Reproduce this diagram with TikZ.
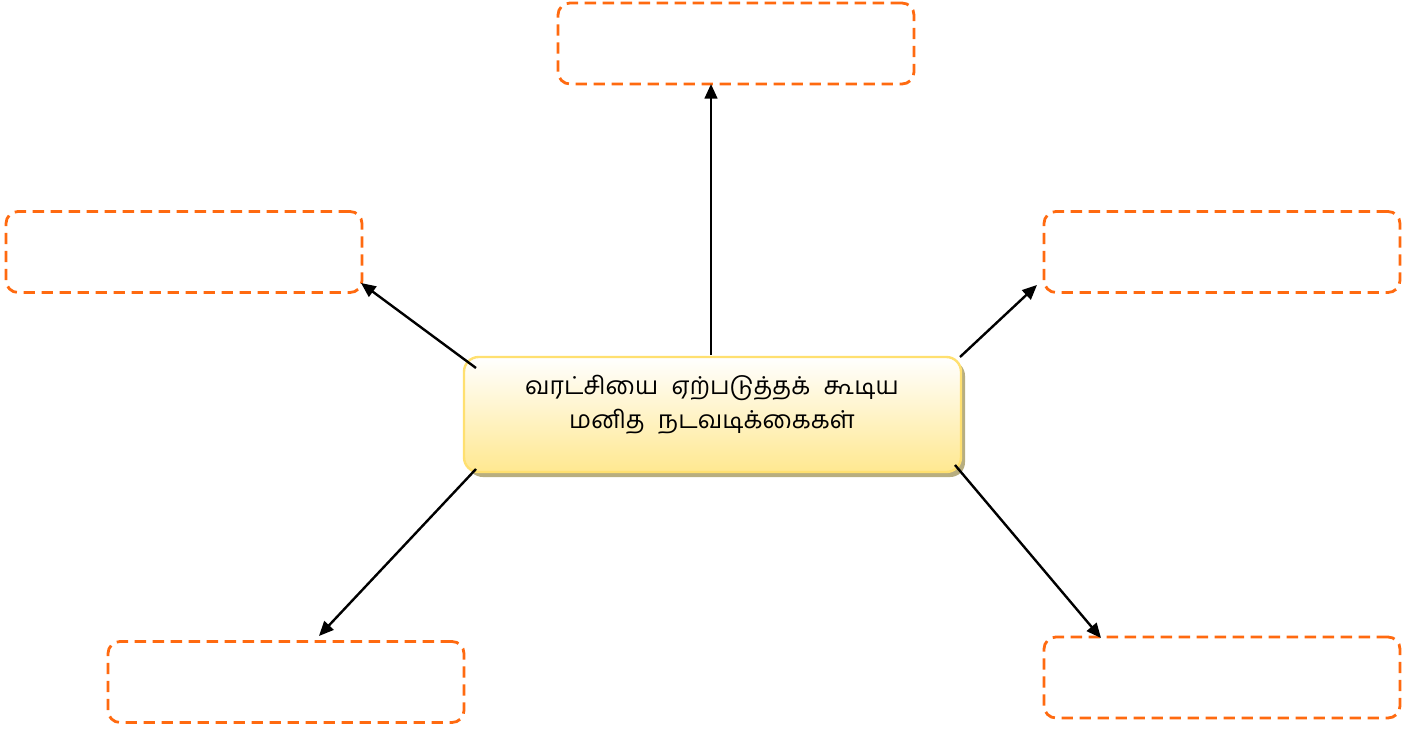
\documentclass[tikz,border=0pt]{standalone}
\usepackage{fontspec}
\newfontfamily\tamilfont[Script=Tamil]{Hind Madurai}
\usetikzlibrary{arrows.meta}
\definecolor{dashorange}{HTML}{FF6A10}
\definecolor{boxedge}{HTML}{FFE070}
\definecolor{boxbot}{HTML}{FFE890}
\definecolor{shadowc}{HTML}{B8AE80}
\tikzset{
  emptybox/.style={draw=dashorange, line width=2.1pt, dash pattern=on 8.5pt off 5pt, rounded corners=9pt, minimum width=356*0.75pt, minimum height=81*0.75pt, inner sep=0pt},
  conn/.style={line width=1.8pt, -{Triangle[length=11pt,width=9.5pt]}},
}
\begin{document}
\begin{tikzpicture}[x=0.75pt,y=-0.75pt]
\useasboundingbox (0,0) rectangle (1418,731);
% boxes
\node[emptybox] (top) at (736,43.5) {};
\node[emptybox] (left) at (184,252) {};
\node[emptybox] (right) at (1222,252) {};
\node[emptybox] (bl) at (286,682) {};
\node[emptybox] (br) at (1222,677.5) {};
% center box shadow and box
\fill[shadowc, rounded corners=11pt] (468,361) rectangle (965,477);
\shade[top color=white, bottom color=boxbot, draw=boxedge, line width=1.8pt, rounded corners=11pt] (464,357) rectangle (961,472);
\node[align=center, font=\tamilfont\fontsize{18.5}{25.5}\selectfont, inner sep=0pt] (center) at (712,405) {வரட்சியை \hspace{0.3em}ஏற்படுத்தக் \hspace{0.3em}கூடிய\\மனித \hspace{0.3em}நடவடிக்கைகள்};
% connector coordinates
\coordinate (cT) at (711,355);
\coordinate (cL) at (476,368);
\coordinate (cR) at (960,357);
\coordinate (cBL) at (476,469);
\coordinate (cBR) at (955,465);
\coordinate (eT) at (711,84);
\coordinate (eL) at (361,283);
\coordinate (eR) at (1037,285);
\coordinate (eBL) at (319,636);
\coordinate (eBR) at (1101,638);
\draw[conn] (cT) -- (eT);
\draw[conn] (cL) -- (eL);
\draw[conn] (cR) -- (eR);
\draw[conn] (cBL) -- (eBL);
\draw[conn] (cBR) -- (eBR);
\end{tikzpicture}
\end{document}
